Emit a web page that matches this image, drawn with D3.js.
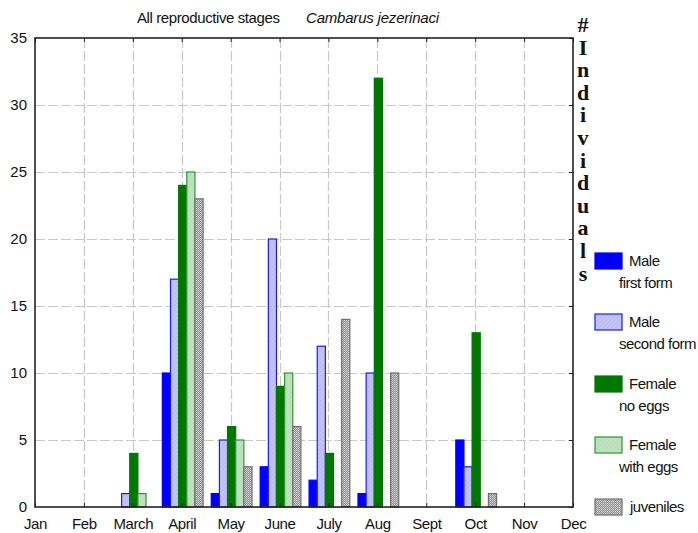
<!DOCTYPE html>
<html>
<head>
<meta charset="utf-8">
<script src="https://cdn.jsdelivr.net/npm/d3@7"></script>
<style>
  html, body { margin: 0; padding: 0; background: #fff; }
  svg { display: block; font-family: "Liberation Sans", Arial, sans-serif; }
</style>
</head>
<body>
<svg id="chart" width="698" height="533"></svg>
<script>
// Monthly counts of Cambarus jezerinaci by reproductive stage
const months = ["Jan", "Feb", "March", "April", "May", "June", "July", "Aug", "Sept", "Oct", "Nov", "Dec"];
const seriesNames = ["Male first form", "Male second form", "Female no eggs", "Female with eggs", "juveniles"];
const maleFirstForm   = [0, 0, 0, 10, 1, 3, 2, 1, 0, 5, 0, 0];
const maleSecondForm  = [0, 0, 1, 17, 5, 20, 12, 10, 0, 3, 0, 0];
const femaleNoEggs    = [0, 0, 4, 24, 6, 9, 4, 32, 0, 13, 0, 0];
const femaleWithEggs  = [0, 0, 1, 25, 5, 10, 0, 0, 0, 0, 0, 0];
const juveniles       = [0, 0, 0, 23, 3, 6, 14, 10, 0, 1, 0, 0];
const yTicks = [0, 5, 10, 15, 20, 25, 30, 35];
const legendLines = [["Male", "first form"], ["Male", "second form"], ["Female", "no eggs"], ["Female", "with eggs"], ["juveniles"]];

const seriesValues = [maleFirstForm, maleSecondForm, femaleNoEggs, femaleWithEggs, juveniles];

const svg = d3.select("#chart");
const plot = { left: 35, right: 573, top: 38, bottom: 507 };

const defs = svg.append("defs");
// light lavender with fine diagonal hatch
const hatchBlue = defs.append("pattern").attr("id", "hatchBlue").attr("patternUnits", "userSpaceOnUse")
  .attr("width", 3).attr("height", 3).attr("patternTransform", "rotate(45)");
hatchBlue.append("rect").attr("width", 3).attr("height", 3).attr("fill", "#c4c4f4");
hatchBlue.append("line").attr("x1", 0).attr("y1", 0).attr("x2", 0).attr("y2", 3)
  .attr("stroke", "#aeaeea").attr("stroke-width", 1);
// light green with fine diagonal hatch
const hatchGreen = defs.append("pattern").attr("id", "hatchGreen").attr("patternUnits", "userSpaceOnUse")
  .attr("width", 3).attr("height", 3).attr("patternTransform", "rotate(45)");
hatchGreen.append("rect").attr("width", 3).attr("height", 3).attr("fill", "#c2e0c2");
hatchGreen.append("line").attr("x1", 0).attr("y1", 0).attr("x2", 0).attr("y2", 3)
  .attr("stroke", "#aed4ae").attr("stroke-width", 1);
// gray checker for juveniles
const checker = defs.append("pattern").attr("id", "checker").attr("patternUnits", "userSpaceOnUse")
  .attr("width", 2).attr("height", 2);
checker.append("rect").attr("width", 2).attr("height", 2).attr("fill", "#8c8c8c");
checker.append("rect").attr("width", 1).attr("height", 1).attr("fill", "#dcdcdc");
checker.append("rect").attr("x", 1).attr("y", 1).attr("width", 1).attr("height", 1).attr("fill", "#c4c4c4");

const fills = ["#0000ff", "url(#hatchBlue)", "#007800", "url(#hatchGreen)", "url(#checker)"];
const strokes = ["#0000ff", "#1a1aff", "#007800", "#2a9a2a", "#707070"];

const x = d3.scalePoint().domain(months).range([plot.left, plot.right]);
const y = d3.scaleLinear().domain([0, 35]).range([plot.bottom, plot.top]);
const step = x.step();
const barW = step / 6;
const sub = d3.scaleBand().domain(d3.range(seriesNames.length))
  .range([-2.5 * barW + 1, 2.5 * barW + 1]).padding(0);

// grid
const grid = svg.append("g").attr("stroke", "#c8c8c8").attr("stroke-width", 1.2).attr("stroke-dasharray", "10,3");
grid.selectAll("line.h").data(yTicks.filter(t => t > 0 && t < 35)).join("line")
  .attr("x1", plot.left).attr("x2", plot.right)
  .attr("y1", d => Math.round(y(d)) + 0.5).attr("y2", d => Math.round(y(d)) + 0.5);
grid.selectAll("line.v").data(months.slice(1, -1)).join("line")
  .attr("y1", plot.top).attr("y2", plot.bottom)
  .attr("x1", d => Math.round(x(d)) + 0.5).attr("x2", d => Math.round(x(d)) + 0.5);

// bars
const groups = svg.append("g").selectAll("g").data(seriesValues).join("g");
groups.each(function(vals, si) {
  d3.select(this).selectAll("rect").data(months.map((m, i) => ({ m, v: vals[i] })).filter(d => d.v > 0))
    .join("rect")
    .attr("x", d => x(d.m) + sub(si))
    .attr("width", sub.bandwidth())
    .attr("y", d => y(d.v))
    .attr("height", d => y(0) - y(d.v))
    .attr("fill", fills[si])
    .attr("stroke", strokes[si])
    .attr("stroke-width", 1.2);
});

// axes, ticks pointing into the plot
const axisColor = "#222";
const yAxis = svg.append("g").attr("transform", `translate(${plot.left},0)`)
  .call(d3.axisLeft(y).tickValues(yTicks).tickSize(0).tickPadding(8));
yAxis.select(".domain").remove();
yAxis.selectAll("text").attr("font-size", 15).attr("fill", "#111");

const xAxis = svg.append("g").attr("transform", `translate(0,${plot.bottom})`)
  .call(d3.axisBottom(x).tickSize(-4).tickPadding(11));
xAxis.select(".domain").remove();
xAxis.selectAll("text").attr("font-size", 15).attr("fill", "#111").attr("letter-spacing", -0.4);
xAxis.selectAll("line").attr("stroke", axisColor);

const rAxis = svg.append("g").attr("transform", `translate(${plot.right},0)`)
  .call(d3.axisRight(y).tickValues(yTicks).tickSize(-4).tickFormat(""));
rAxis.select(".domain").remove();
rAxis.selectAll("line").attr("stroke", axisColor);
const tAxis = svg.append("g").attr("transform", `translate(0,${plot.top})`)
  .call(d3.axisBottom(x).tickSize(4).tickFormat(""));
tAxis.select(".domain").remove();
tAxis.selectAll("line").attr("stroke", axisColor);

svg.append("rect").attr("x", plot.left).attr("y", plot.top)
  .attr("width", plot.right - plot.left).attr("height", plot.bottom - plot.top)
  .attr("fill", "none").attr("stroke", axisColor).attr("stroke-width", 1.6);

// title
svg.append("text").attr("x", 137).attr("y", 23).attr("font-size", 15).attr("letter-spacing", -0.4)
  .attr("fill", "#111").text("All reproductive stages");
svg.append("text").attr("x", 306).attr("y", 23).attr("font-size", 15).attr("letter-spacing", -0.2)
  .attr("font-style", "italic").attr("fill", "#111").text("Cambarus jezerinaci");

// vertical axis title, letters stacked
const vLabel = "#Individuals".split("");
svg.append("g").selectAll("text").data(vLabel).join("text")
  .attr("x", 583).attr("y", (d, i) => 32 + i * 22.6)
  .attr("text-anchor", "middle")
  .attr("font-family", "'Liberation Serif', 'Times New Roman', serif")
  .attr("font-weight", "bold").attr("font-size", 22).attr("fill", "#111")
  .text(d => d);

// legend
const legendTop = [253, 314, 376, 437, 499];
const legend = svg.append("g");
seriesNames.forEach((name, i) => {
  const g = legend.append("g").attr("transform", `translate(595,${legendTop[i]})`);
  g.append("rect").attr("width", 27).attr("height", 16)
    .attr("fill", fills[i]).attr("stroke", strokes[i]).attr("stroke-width", 1.2);
  const lines = legendLines[i];
  g.append("text").attr("x", lines.length > 1 ? 34 : 35).attr("y", 13).attr("font-size", 15)
    .attr("letter-spacing", -0.5).attr("fill", "#111").text(lines[0]);
  if (lines.length > 1) {
    g.append("text").attr("x", 24).attr("y", 35).attr("font-size", 15)
      .attr("letter-spacing", -0.5).attr("fill", "#111").text(lines[1]);
  }
});
</script>
</body>
</html>
